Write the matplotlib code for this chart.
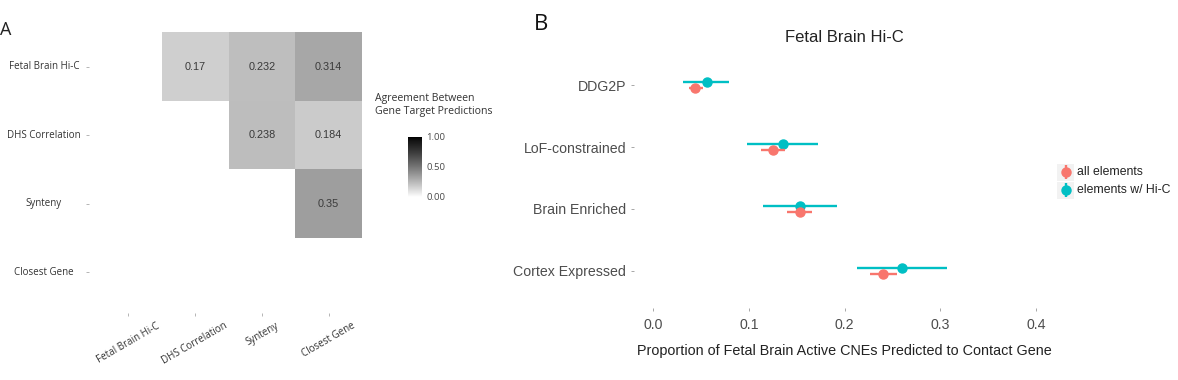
import numpy as np
import matplotlib
matplotlib.use("Agg")
import matplotlib.pyplot as plt
from matplotlib.colors import ListedColormap
from matplotlib.patches import Rectangle
from matplotlib.transforms import blended_transform_factory

# ---------------- data ----------------
methods = ["Fetal Brain Hi-C", "DHS Correlation", "Synteny", "Closest Gene"]
nan = np.nan
agreement = [
    [nan, 0.17, 0.232, 0.314],
    [nan, nan, 0.238, 0.184],
    [nan, nan, nan, 0.35],
    [nan, nan, nan, nan],
]
cbar_ticks = [0.0, 0.5, 1.0]
cbar_ticklabels = ["0.00", "0.50", "1.00"]

categories = ["DDG2P", "LoF-constrained", "Brain Enriched", "Cortex Expressed"]
all_est = [0.044, 0.125, 0.153, 0.240]
all_lo = [0.037, 0.113, 0.140, 0.227]
all_hi = [0.052, 0.138, 0.166, 0.255]
sub_est = [0.056, 0.136, 0.154, 0.260]
sub_lo = [0.031, 0.098, 0.115, 0.213]
sub_hi = [0.079, 0.172, 0.192, 0.307]
series_names = ["all elements", "elements w/ Hi-C"]
xticks = [0.0, 0.1, 0.2, 0.3, 0.4]

RED = "#F8766D"
TEAL = "#00BFC4"

W, H = 1178, 380
fig = plt.figure(figsize=(W / 100, H / 100), dpi=100)


def fx(px):
    return px / W


def fy(py):
    return 1 - py / H


# grey ramp (white -> black, perceptual)
def lstar_to_gray(L):
    Y = ((L + 16) / 116) ** 3 if L > 8 else L / 903.3
    c = 1.055 * Y ** (1 / 2.4) - 0.055 if Y > 0.0031308 else 12.92 * Y
    return min(max(c, 0), 1)


ramp = [lstar_to_gray(100 * (1 - t)) for t in np.linspace(0, 1, 256)]
cmap = ListedColormap([(g, g, g) for g in ramp])

HFONT = "Open Sans"
AFONT = "Liberation Sans"

# ---------------- panel A: heatmap ----------------
e = 0.09
axA = fig.add_axes([fx(89), fy(313), fx(368 - 89), (313 - 26) / H])
mat = np.ma.masked_invalid(np.array(agreement, dtype=float))
axA.pcolormesh(np.arange(5), np.arange(5), mat, cmap=cmap, vmin=0, vmax=1)
axA.set_xlim(-e, 4 + e)
axA.set_ylim(4 + e, -e)
for i in range(4):
    for j in range(4):
        v = agreement[i][j]
        if not np.isnan(v):
            axA.text(j + 0.5, i + 0.5, str(v), ha="center", va="center",
                     fontsize=7.8, family=AFONT, color="#3a3a3a")
for s in axA.spines.values():
    s.set_visible(False)
axA.set_xticks(np.arange(4) + 0.5)
axA.set_yticks(np.arange(4) + 0.5)
axA.set_yticklabels([])
axA.set_xticklabels(methods, rotation=30, ha="center", va="top",
                    fontsize=7, family=HFONT, color="#333333")
axA.tick_params(axis="both", length=2.5, width=0.6, color="#aaaaaa", pad=3)
tr = blended_transform_factory(fig.transFigure, axA.transData)
for i, m in enumerate(methods):
    axA.text(fx(44), i + 0.5, m, transform=tr, ha="center", va="center",
             fontsize=7, family=HFONT, color="#333333")

fig.text(fx(0), fy(30), "A", fontsize=13, family=HFONT, ha="left", va="center",
         color="#222222")

# colorbar
axC = fig.add_axes([fx(408), fy(197), fx(14), 60 / H])
grad = np.linspace(0, 1, 256).reshape(-1, 1)
axC.imshow(grad, cmap=cmap, vmin=0, vmax=1, aspect="auto", origin="lower",
           extent=[0, 1, 0, 1])
axC.set_xlim(0, 1)
axC.set_ylim(0, 1)
axC.set_xticks([])
axC.yaxis.tick_right()
axC.set_yticks(cbar_ticks)
axC.set_yticklabels(cbar_ticklabels, fontsize=6.8, family=HFONT, color="#4a4a4a")
axC.tick_params(axis="y", length=0, pad=3)
for s in axC.spines.values():
    s.set_visible(False)
fig.text(fx(375), fy(93), "Agreement Between\nGene Target Predictions",
         fontsize=7.6, family=HFONT, ha="left", va="top", color="#333333",
         linespacing=1.3)

# ---------------- panel B: dot + CI ----------------
axB = fig.add_axes([fx(634), fy(308), fx(1055 - 634), (308 - 48) / H])
ypos = np.arange(len(categories))
off = 0.045
a_est = np.array(all_est)
s_est = np.array(sub_est)
axB.errorbar(s_est, ypos - off,
             xerr=[s_est - np.array(sub_lo), np.array(sub_hi) - s_est],
             fmt="o", color=TEAL, ms=6.5, elinewidth=1.7, capsize=0, zorder=3)
axB.errorbar(a_est, ypos + off,
             xerr=[a_est - np.array(all_lo), np.array(all_hi) - a_est],
             fmt="o", color=RED, ms=6.5, elinewidth=1.7, capsize=0, zorder=4)
axB.set_xlim(-0.02, 0.42)
axB.set_ylim(len(categories) - 0.4, -0.6)
axB.set_yticks(ypos)
axB.set_yticklabels(categories, fontsize=10.2, family=AFONT, color="#4d4d4d")
axB.set_xticks(xticks)
axB.set_xticklabels([f"{t:.1f}" for t in xticks], fontsize=10.2, family=AFONT,
                    color="#4d4d4d")
axB.tick_params(axis="both", length=2.5, width=0.6, color="#999999", pad=3)
axB.tick_params(axis="x", pad=5)
for s in axB.spines.values():
    s.set_visible(False)
axB.set_xlabel("Proportion of Fetal Brain Active CNEs Predicted to Contact Gene",
               fontsize=10.4, family=AFONT, color="#222222", labelpad=8)
axB.set_title("Fetal Brain Hi-C", fontsize=12, family=AFONT, color="#222222",
              pad=4)
fig.text(fx(534), fy(24), "B", fontsize=16, family=HFONT, ha="left",
         va="center", color="#111111")

# legend (manual, pixel coordinates)
axL = fig.add_axes([fx(1054), fy(205), fx(W - 1054), 50 / H])
axL.set_xlim(1054, W)
axL.set_ylim(205, 155)
axL.axis("off")
for k, (name, col) in enumerate(zip(series_names, [RED, TEAL])):
    yc = 172 + 18 * k
    axL.add_patch(Rectangle((1057, yc - 8.5), 17, 17, facecolor="#f2f2f2",
                            edgecolor="none"))
    axL.plot([1065.5, 1065.5], [yc - 7, yc + 7], color=col, lw=1.7,
             solid_capstyle="butt")
    axL.plot([1065.5], [yc], "o", color=col, ms=6.5)
    axL.text(1077, yc, name, fontsize=8.8, family=AFONT, ha="left",
             va="center", color="#222222")

fig.savefig("out.png", dpi=100)
